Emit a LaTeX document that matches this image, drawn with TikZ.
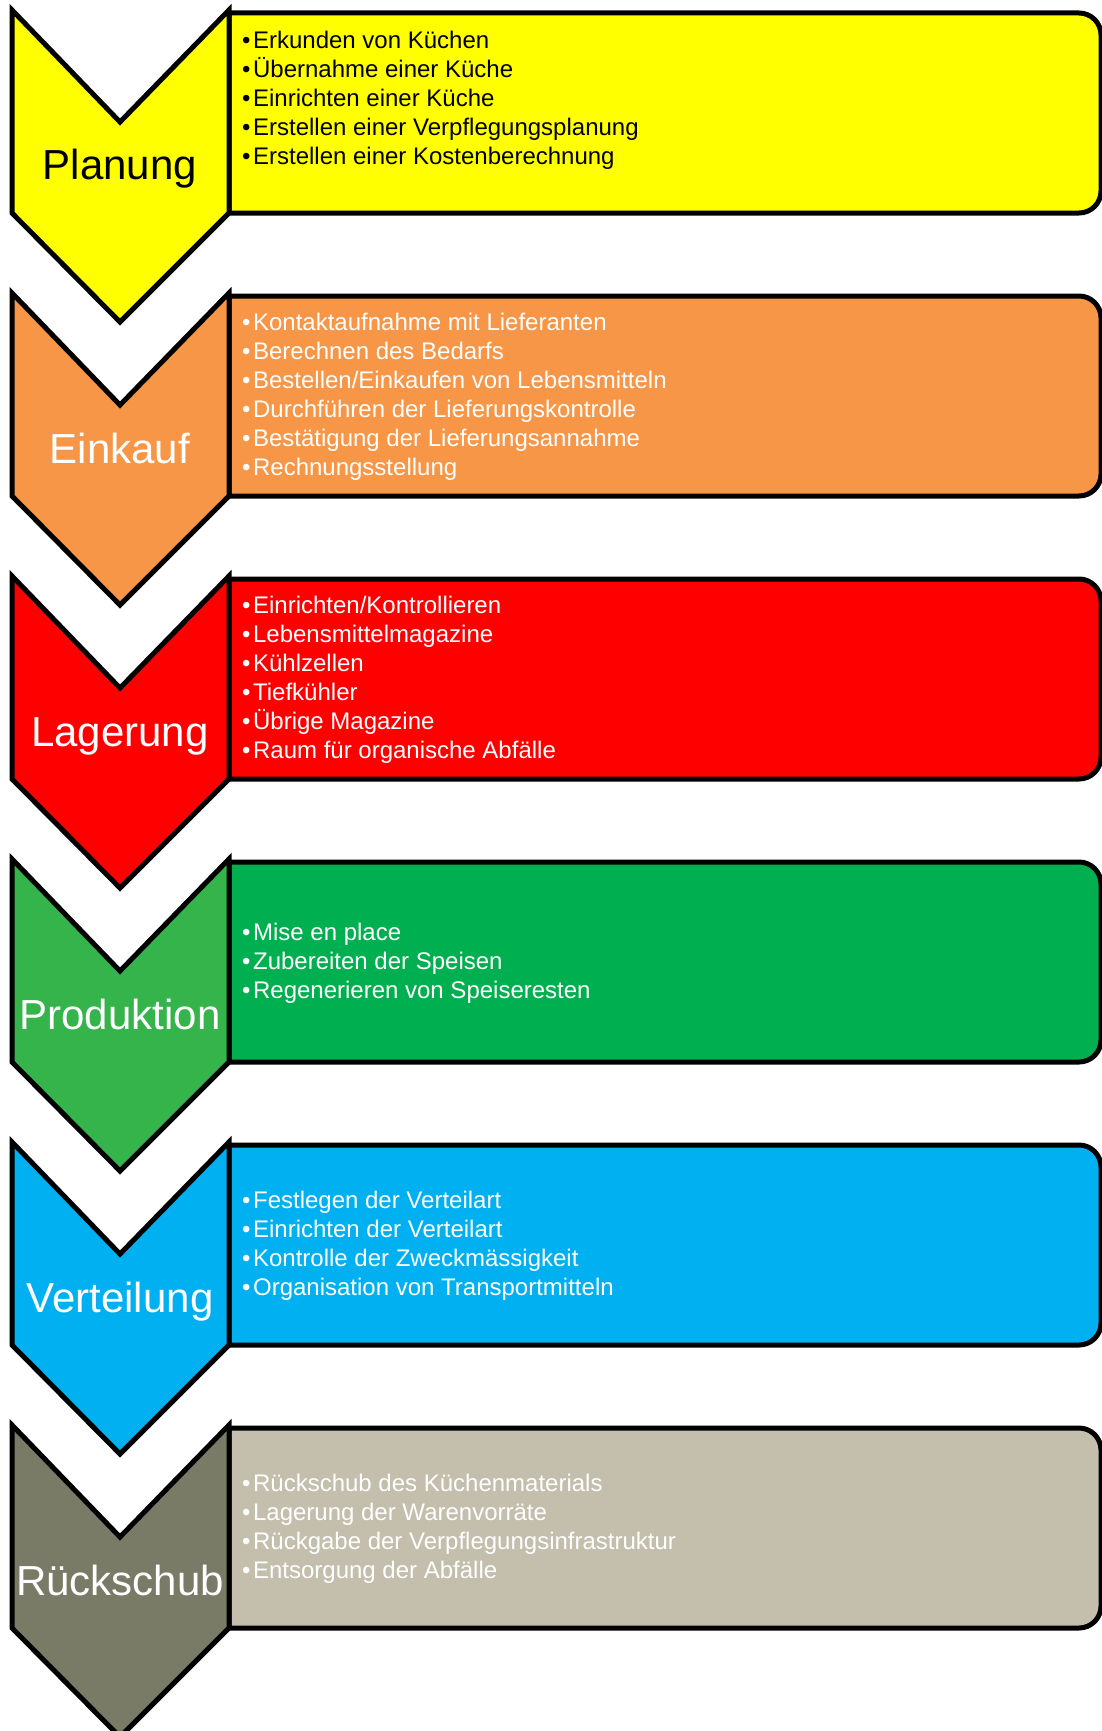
\documentclass[tikz,border=0pt]{standalone}
\usepackage{fontspec}
\setmainfont{Liberation Sans}
\usepackage{tikz}
\definecolor{planungfill}{HTML}{FFFF00}
\definecolor{einkauffill}{HTML}{F79646}
\definecolor{lagerungfill}{HTML}{FF0000}
\definecolor{produktionchev}{HTML}{34B44A}
\definecolor{produktionbox}{HTML}{00B050}
\definecolor{verteilungfill}{HTML}{00B0F0}
\definecolor{rueckschubchev}{HTML}{7A7B66}
\definecolor{rueckschubbox}{HTML}{C4BEAC}
\tikzset{
  chev/.style={draw=black, line width=5pt, line join=miter},
  panel/.style={draw=black, line width=5pt, line join=miter},
  stage/.style={anchor=base, inner sep=0pt, font=\fontsize{42}{48}\selectfont},
  tasks/.style={anchor=west, align=left, inner sep=0pt, font=\fontsize{24}{29}\selectfont},
}
\newcommand{\BUL}{\textbullet\hspace{2.5pt}}

\begin{document}
\begin{tikzpicture}

  \newcommand\R{283pt};

  \useasboundingbox (0pt,0pt) rectangle (1102pt,-1731pt); %% page size

  %% Planung
  \draw[panel, fill=planungfill] (229pt,-13pt-0*\R) -- ++(850pt,0pt) arc(90:0:22pt)
  -- ++(0pt,-156pt) arc(0:-90:22pt) -- ++(-850pt,0pt) -- cycle;
  \draw[chev, fill=planungfill] (12pt,-10pt-0*\R) -- ++(108pt,-112pt) -- ++(109pt,112pt)
  -- ++(0pt,-203pt) -- ++(-109pt,-109pt) -- ++(-108pt,109pt) -- cycle;
  \node[stage, text=black] (planung) at (120pt,-180pt-0*\R) {Planung};
  \node[tasks, text=black] (planungtasks) at (242pt,-100pt-0*\R)
  {\BUL Erkunden von Küchen\\ \BUL Übernahme einer Küche\\ \BUL Einrichten einer Küche\\
   \BUL Erstellen einer Verpflegungsplanung\\ \BUL Erstellen einer Kostenberechnung};

  %% Einkauf
  \draw[panel, fill=einkauffill] (229pt,-13pt-1*\R) -- ++(850pt,0pt) arc(90:0:22pt)
  -- ++(0pt,-156pt) arc(0:-90:22pt) -- ++(-850pt,0pt) -- cycle;
  \draw[chev, fill=einkauffill] (12pt,-10pt-1*\R) -- ++(108pt,-112pt) -- ++(109pt,112pt)
  -- ++(0pt,-203pt) -- ++(-109pt,-109pt) -- ++(-108pt,109pt) -- cycle;
  \node[stage, text=white] (einkauf) at (120pt,-180pt-1*\R) {Einkauf};
  \node[tasks, text=white] (einkauftasks) at (242pt,-114pt-1*\R)
  {\BUL Kontaktaufnahme mit Lieferanten\\ \BUL Berechnen des Bedarfs\\
   \BUL Bestellen/Einkaufen von Lebensmitteln\\ \BUL Durchführen der Lieferungskontrolle\\
   \BUL Bestätigung der Lieferungsannahme\\ \BUL Rechnungsstellung};

  %% Lagerung
  \draw[panel, fill=lagerungfill] (229pt,-13pt-2*\R) -- ++(850pt,0pt) arc(90:0:22pt)
  -- ++(0pt,-156pt) arc(0:-90:22pt) -- ++(-850pt,0pt) -- cycle;
  \draw[chev, fill=lagerungfill] (12pt,-10pt-2*\R) -- ++(108pt,-112pt) -- ++(109pt,112pt)
  -- ++(0pt,-203pt) -- ++(-109pt,-109pt) -- ++(-108pt,109pt) -- cycle;
  \node[stage, text=white] (lagerung) at (120pt,-180pt-2*\R) {Lagerung};
  \node[tasks, text=white] (lagerungtasks) at (242pt,-114pt-2*\R)
  {\BUL Einrichten/Kontrollieren\\ \BUL Lebensmittelmagazine\\ \BUL Kühlzellen\\
   \BUL Tiefkühler\\ \BUL Übrige Magazine\\ \BUL Raum für organische Abfälle};

  %% Produktion
  \draw[panel, fill=produktionbox] (229pt,-13pt-3*\R) -- ++(850pt,0pt) arc(90:0:22pt)
  -- ++(0pt,-156pt) arc(0:-90:22pt) -- ++(-850pt,0pt) -- cycle;
  \draw[chev, fill=produktionchev] (12pt,-10pt-3*\R) -- ++(108pt,-112pt) -- ++(109pt,112pt)
  -- ++(0pt,-203pt) -- ++(-109pt,-109pt) -- ++(-108pt,109pt) -- cycle;
  \node[stage, text=white] (produktion) at (120pt,-180pt-3*\R) {Produktion};
  \node[tasks, text=white] (produktiontasks) at (242pt,-114pt-3*\R)
  {\BUL Mise en place\\ \BUL Zubereiten der Speisen\\ \BUL Regenerieren von Speiseresten};

  %% Verteilung
  \draw[panel, fill=verteilungfill] (229pt,-13pt-4*\R) -- ++(850pt,0pt) arc(90:0:22pt)
  -- ++(0pt,-156pt) arc(0:-90:22pt) -- ++(-850pt,0pt) -- cycle;
  \draw[chev, fill=verteilungfill] (12pt,-10pt-4*\R) -- ++(108pt,-112pt) -- ++(109pt,112pt)
  -- ++(0pt,-203pt) -- ++(-109pt,-109pt) -- ++(-108pt,109pt) -- cycle;
  \node[stage, text=white] (verteilung) at (120pt,-180pt-4*\R) {Verteilung};
  \node[tasks, text=white] (verteilungtasks) at (242pt,-114pt-4*\R)
  {\BUL Festlegen der Verteilart\\ \BUL Einrichten der Verteilart\\
   \BUL Kontrolle der Zweckmässigkeit\\ \BUL Organisation von Transportmitteln};

  %% Rueckschub
  \draw[panel, fill=rueckschubbox] (229pt,-13pt-5*\R) -- ++(850pt,0pt) arc(90:0:22pt)
  -- ++(0pt,-156pt) arc(0:-90:22pt) -- ++(-850pt,0pt) -- cycle;
  \draw[chev, fill=rueckschubchev] (12pt,-10pt-5*\R) -- ++(108pt,-112pt) -- ++(109pt,112pt)
  -- ++(0pt,-203pt) -- ++(-109pt,-109pt) -- ++(-108pt,109pt) -- cycle;
  \node[stage, text=white] (rueckschub) at (120pt,-180pt-5*\R) {Rückschub};
  \node[tasks, text=white] (rueckschubtasks) at (242pt,-114pt-5*\R)
  {\BUL Rückschub des Küchenmaterials\\ \BUL Lagerung der Warenvorräte\\
   \BUL Rückgabe der Verpflegungsinfrastruktur\\ \BUL Entsorgung der Abfälle};

\end{tikzpicture}
\end{document}
